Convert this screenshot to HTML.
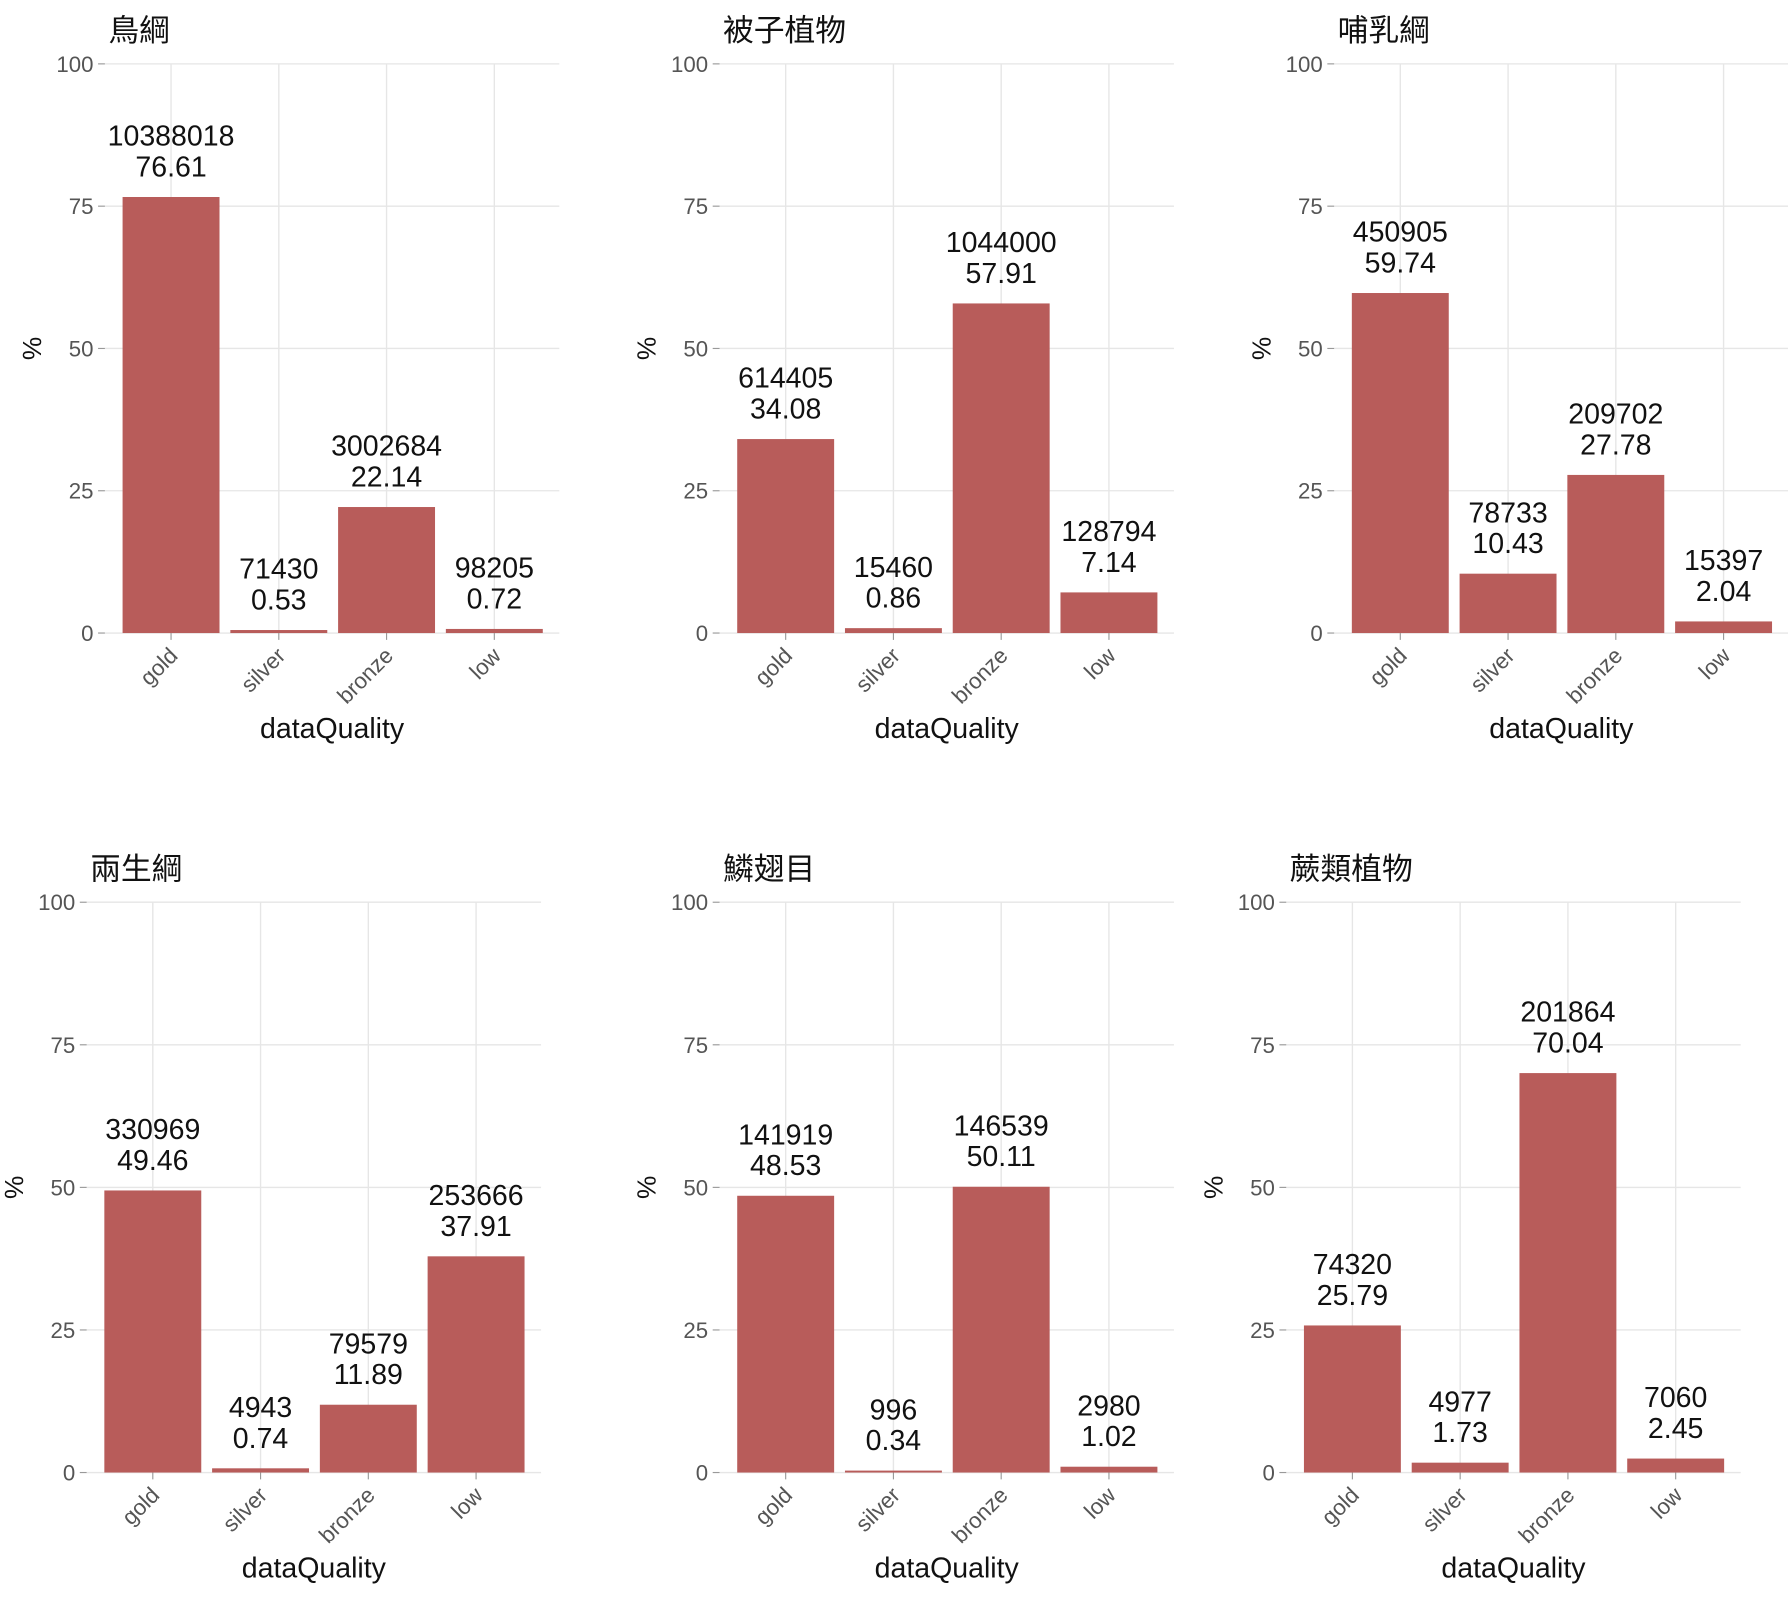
<!DOCTYPE html>
<html><head><meta charset="utf-8"><style>
html,body{margin:0;padding:0;background:#fff;}
svg{display:block;}
text{font-family:"Liberation Sans","Noto Sans CJK TC",sans-serif;}
</style></head><body>
<svg id="chart" width="1788" height="1598" viewBox="0 0 1568 1401" preserveAspectRatio="none" xmlns="http://www.w3.org/2000/svg"></svg>
<script>
const categories = ["gold","silver","bronze","low"];
const titles = ["鳥綱","被子植物","哺乳綱","兩生綱","鱗翅目","蕨類植物"];
const pctValues = [
  [76.61,0.53,22.14,0.72],
  [34.08,0.86,57.91,7.14],
  [59.74,10.43,27.78,2.04],
  [49.46,0.74,11.89,37.91],
  [48.53,0.34,50.11,1.02],
  [25.79,1.73,70.04,2.45]
];
const countValues = [
  [10388018,71430,3002684,98205],
  [614405,15460,1044000,128794],
  [450905,78733,209702,15397],
  [330969,4943,79579,253666],
  [141919,996,146539,2980],
  [74320,4977,201864,7060]
];
const pctLabels = [
  ["76.61","0.53","22.14","0.72"],
  ["34.08","0.86","57.91","7.14"],
  ["59.74","10.43","27.78","2.04"],
  ["49.46","0.74","11.89","37.91"],
  ["48.53","0.34","50.11","1.02"],
  ["25.79","1.73","70.04","2.45"]
];
const yTicks = [0,25,50,75,100];

const panels = [
  {x0:150, top:56, bottom:555},
  {x0:689, top:56, bottom:555},
  {x0:1228, top:56, bottom:555},
  {x0:134, top:791, bottom:1291},
  {x0:689, top:791, bottom:1291},
  {x0:1186, top:791, bottom:1291}
];
const step = 94.5, barW = 85;
const svg = document.getElementById('chart');
const NS = "http://www.w3.org/2000/svg";
function mk(tag, attrs, parent){
  const e = document.createElementNS(NS, tag);
  for (const k in attrs) e.setAttribute(k, attrs[k]);
  parent.appendChild(e);
  return e;
}
panels.forEach((p, i) => {
  const g = mk('g', {}, svg);
  
  
  const xc = j => p.x0 + j*step;
  const y = v => p.bottom - (v/100)*(p.bottom - p.top);
  const left = p.x0 - 58, right = xc(3) + 57;
  yTicks.forEach(t => {
    const l = mk('line', {x1:left, x2:right, y1:y(t), y2:y(t), stroke:'#e6e6e6', 'stroke-width':1.2}, g);
    
    
    mk('line', {x1:left-6, x2:left, y1:y(t), y2:y(t), stroke:'#999', 'stroke-width':1}, g);
    const tx = mk('text', {x:left-10, y:y(t)+7, 'text-anchor':'end', 'font-size':19.5, fill:'#555'}, g);
    tx.textContent = t;
    
    
  });
  categories.forEach((c, j) => {
    const l = mk('line', {x1:xc(j), x2:xc(j), y1:p.top, y2:p.bottom, stroke:'#e6e6e6', 'stroke-width':1.2}, g);
    
    
    mk('line', {x1:xc(j), x2:xc(j), y1:p.bottom, y2:p.bottom+6, stroke:'#999', 'stroke-width':1}, g);
    const tx = mk('text', {x:xc(j)+7, y:p.bottom+21, 'text-anchor':'end', 'font-size':19.5, fill:'#555',
      transform:`rotate(-45 ${xc(j)+7} ${p.bottom+21})`}, g);
    tx.textContent = c;
    
    
  });
  categories.forEach((c, j) => {
    const v = pctValues[i][j];
    const r = mk('rect', {x:xc(j)-barW/2, y:y(v), width:barW, height:p.bottom - y(v), fill:'#b85c5a'}, g);
    
    
    const t1 = mk('text', {x:xc(j), y:y(v)-45, 'text-anchor':'middle', 'font-size':25, fill:'#111'}, g);
    t1.textContent = countValues[i][j];
    
    
    const t2 = mk('text', {x:xc(j), y:y(v)-18, 'text-anchor':'middle', 'font-size':25, fill:'#111'}, g);
    t2.textContent = pctLabels[i][j];
    
    
  });
  const ti = mk('text', {x:left+3, y:p.top-20, 'font-size':27, fill:'#111'}, g);
  ti.textContent = titles[i];
  
  
  const ya = mk('text', {x:left-56, y:(p.top+p.bottom)/2, 'text-anchor':'middle', 'font-size':23, fill:'#111',
    transform:`rotate(-90 ${left-56} ${(p.top+p.bottom)/2})`}, g);
  ya.textContent = '%';
  
  
  const xa = mk('text', {x:(left+right)/2, y:p.bottom+92, 'text-anchor':'middle', 'font-size':25, fill:'#111'}, g);
  xa.textContent = 'dataQuality';
  
  
});
</script>
</body></html>
